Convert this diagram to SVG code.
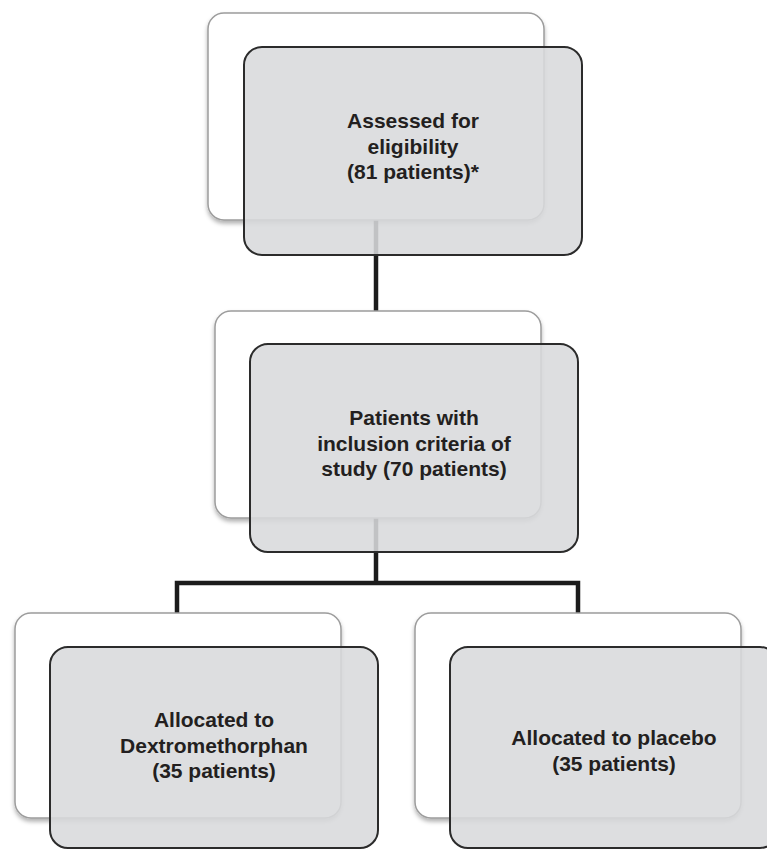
<svg xmlns="http://www.w3.org/2000/svg" width="767" height="849" viewBox="0 0 767 849">
<style>
.back{fill:#ffffff;stroke:#9c9c9c;stroke-width:1.5;filter:url(#sh)}
.front{fill:#d8d9dc;fill-opacity:0.88;stroke:#2b2b2b;stroke-width:2}
.conn{fill:none;stroke:#1c1c1c;stroke-width:4.5;stroke-linejoin:miter}
.t{font-family:"Liberation Sans",Arial,sans-serif;font-weight:bold;font-size:21px;fill:#231f20;text-anchor:middle}
</style>
<defs>
<filter id="sh" x="-10%" y="-10%" width="120%" height="125%">
<feDropShadow dx="0" dy="3" stdDeviation="2" flood-color="#000" flood-opacity="0.3"/>
</filter>
</defs>
<rect width="767" height="849" fill="#ffffff"/>
<g id="connectors">
<path class="conn" d="M376 220 V311"/>
<path class="conn" d="M376 518 V583"/>
<path class="conn" d="M177 613 V583 H578 V613"/>
</g>
<g id="n1">
<rect class="back" x="208" y="13" width="336" height="207" rx="16"/>
<rect class="front" x="244" y="47" width="338" height="208" rx="18"/>
<text class="t" x="413" y="128">Assessed for</text>
<text class="t" x="413" y="154">eligibility</text>
<text class="t" x="413" y="179">(81 patients)*</text>
</g>
<g id="n2">
<rect class="back" x="215" y="311" width="326" height="207" rx="16"/>
<rect class="front" x="250" y="344" width="328" height="208" rx="18"/>
<text class="t" x="414" y="425">Patients with</text>
<text class="t" x="414" y="451">inclusion criteria of</text>
<text class="t" x="414" y="476">study (70 patients)</text>
</g>
<g id="n3">
<rect class="back" x="15" y="613" width="326" height="205" rx="16"/>
<rect class="front" x="50" y="647" width="328" height="201" rx="18"/>
<text class="t" x="214" y="727">Allocated to</text>
<text class="t" x="214" y="753">Dextromethorphan</text>
<text class="t" x="214" y="778">(35 patients)</text>
</g>
<g id="n4">
<rect class="back" x="415" y="613" width="326" height="205" rx="16"/>
<rect class="front" x="450" y="647" width="328" height="201" rx="18"/>
<text class="t" x="614" y="745">Allocated to placebo</text>
<text class="t" x="614" y="771">(35 patients)</text>
</g>
</svg>
